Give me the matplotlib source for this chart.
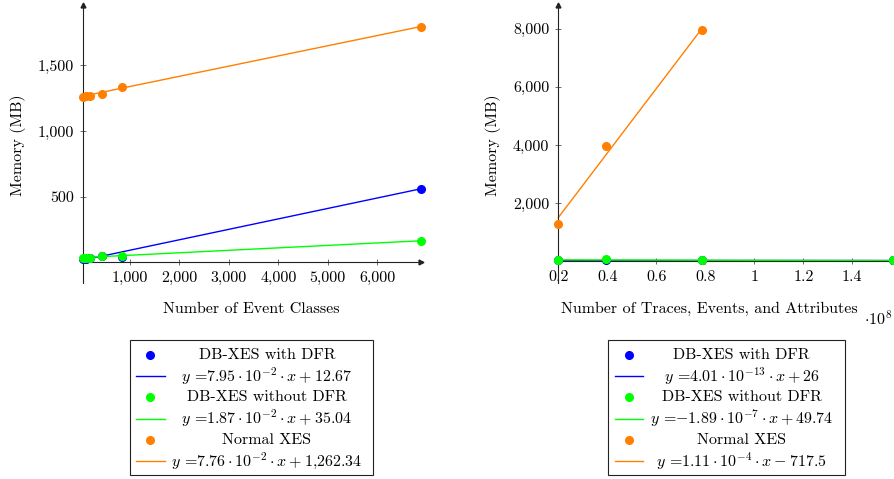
import numpy as np
import matplotlib.pyplot as plt
from matplotlib.lines import Line2D
from matplotlib.patches import Rectangle
from matplotlib.ticker import FuncFormatter

plt.rcParams['font.family'] = 'cmr10'
plt.rcParams['mathtext.fontset'] = 'cm'
plt.rcParams['axes.formatter.use_mathtext'] = True

W, H = 895, 479

# left: number of event classes
classes = [47, 108, 195, 431, 842, 6880]
mem_dfr_cls = [25, 28, 30, 45, 38, 559]
mem_nodfr_cls = [30, 32, 32, 48, 48, 160]
mem_xes_cls = [1262, 1267, 1267, 1285, 1334, 1791]
fit_cls = {'dfr': (7.95e-2, 12.67), 'nodfr': (1.87e-2, 35.04), 'xes': (7.76e-2, 1262.34)}
lbl_cls = [r'$y$ =$7.95\cdot10^{-2}\cdot x+12.67$',
           r'$y$ =$1.87\cdot10^{-2}\cdot x+35.04$',
           r'$y$ =$7.76\cdot10^{-2}\cdot x+1{,}262.34$']

# right: number of traces, events and attributes
size = [2.0e7, 3.96e7, 7.88e7, 1.566e8]
mem_dfr_size = [26, 26, 26, 26]
mem_nodfr_size = [46, 68, 42, 28]
mem_xes_size = [1270, 3976, 7948]
fit_size = {'dfr': (4.01e-13, 26), 'nodfr': (-1.89e-7, 49.74), 'xes': (1.11e-4, -717.5)}
lbl_size = [r'$y$ =$4.01\cdot10^{-13}\cdot x+26$',
            r'$y$ =$-1.89\cdot10^{-7}\cdot x+49.74$',
            r'$y$ =$1.11\cdot10^{-4}\cdot x-717.5$']

names = ['DB-XES with DFR', 'DB-XES without DFR', 'Normal XES']
cols = ['#0000ff', '#00ff00', '#ff8000']

fig = plt.figure(figsize=(W / 100, H / 100), dpi=100)


def px_axes(x0, x1, y0, y1):
    return fig.add_axes([x0 / W, 1 - y1 / H, (x1 - x0) / W, (y1 - y0) / H])


def style(ax, xlim, ylim):
    ax.set_xlim(*xlim)
    ax.set_ylim(*ylim)
    for s in ['top', 'right']:
        ax.spines[s].set_visible(False)
    ax.spines['bottom'].set_position(('data', 0))
    for s in ['left', 'bottom']:
        ax.spines[s].set_linewidth(0.8)
        ax.spines[s].set_color('#222222')
    ax.tick_params(direction='inout', length=5, width=0.6, color='#555555',
                   labelsize=11.5, pad=4)
    ax.plot(1, 0, '>', color='#222222', ms=3.5, transform=ax.get_yaxis_transform(), clip_on=False)
    ax.plot(0, 1, '^', color='#222222', ms=3.5, transform=ax.transAxes, clip_on=False)
    ax.patch.set_visible(False)


def series(ax, x, ys, fits):
    keys = ['dfr', 'nodfr', 'xes']
    for k, y, c in zip(keys, ys, cols):
        xx = np.array(x[:len(y)])
        a, b = fits[k]
        ax.plot(xx, a * xx + b, color=c, lw=1.0, zorder=2, clip_on=False)
    for k, y, c in zip(keys, ys, cols):
        ax.plot(x[:len(y)], y, 'o', color=c, ms=5.5, zorder=3, clip_on=False)


def legend(x0, x1, y0, y1, mx, lx0, lx1, tx, eqs):
    fig.add_artist(Rectangle((x0 / W, 1 - y1 / H), (x1 - x0) / W, (y1 - y0) / H,
                             transform=fig.transFigure, fill=False, lw=0.8, ec='#222222'))
    rows = np.linspace(y0 + 15, y1 - 14, 6)
    for i in range(3):
        yr = 1 - rows[2 * i] / H
        fig.add_artist(Line2D([mx / W], [yr], marker='o', ms=5.5, color=cols[i], ls='none',
                              transform=fig.transFigure))
        fig.text(tx / W, yr, names[i], ha='center', va='center', fontsize=11.5)
        yr = 1 - rows[2 * i + 1] / H
        fig.add_artist(Line2D([lx0 / W, lx1 / W], [yr, yr], color=cols[i], lw=1.0,
                              transform=fig.transFigure))
        fig.text(tx / W, yr, eqs[i], ha='center', va='center', fontsize=11.5)


comma = FuncFormatter(lambda v, p: f'{v:,.0f}')

# left chart
ax1 = px_axes(83.0, 420.6, 5, 283)
style(ax1, (classes[0], classes[-1]), (-158, 1961))
series(ax1, classes, [mem_dfr_cls, mem_nodfr_cls, mem_xes_cls], fit_cls)
ax1.set_xticks([1000, 2000, 3000, 4000, 5000, 6000])
ax1.set_yticks([500, 1000, 1500])
ax1.xaxis.set_major_formatter(comma)
ax1.yaxis.set_major_formatter(comma)
fig.text(251 / W, 1 - 309 / H, 'Number of Event Classes', ha='center', va='center', fontsize=11.5)
fig.text(18 / W, 1 - 145 / H, 'Memory (MB)', ha='center', va='center', rotation=90, fontsize=11.5)

# right chart
ax2 = px_axes(558.3, 893, 5, 283)
style(ax2, (size[0], size[-1]), (-750, 8819))
series(ax2, size, [mem_dfr_size, mem_nodfr_size, mem_xes_size], fit_size)
ax2.set_xticks([0.2e8, 0.4e8, 0.6e8, 0.8e8, 1.0e8, 1.2e8, 1.4e8])
ax2.set_yticks([2000, 4000, 6000, 8000])
ax2.xaxis.set_major_formatter(FuncFormatter(lambda v, p: f'{v / 1e8:g}'))
ax2.yaxis.set_major_formatter(comma)
fig.text(709 / W, 1 - 309 / H, 'Number of Traces, Events, and Attributes', ha='center', va='center',
         fontsize=11.5)
fig.text(493 / W, 1 - 145 / H, 'Memory (MB)', ha='center', va='center', rotation=90, fontsize=11.5)
fig.text(864 / W, 1 - 318 / H, r'$\cdot10^{8}$', ha='left', va='center', fontsize=11.5)

legend(130, 373, 340, 475, 150, 136, 165, 267, lbl_cls)
legend(608, 845, 340, 475, 629.3, 615, 643.3, 741.5, lbl_size)

fig.savefig('out.png', dpi=100)
